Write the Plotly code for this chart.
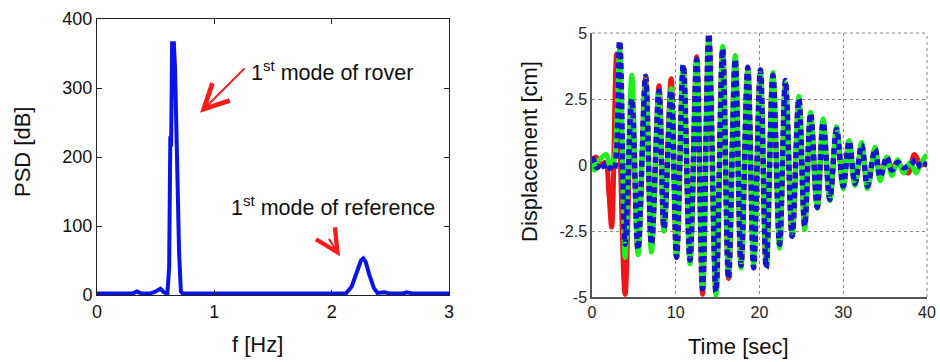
import plotly.graph_objects as go

# ---------------- data ----------------
# Left: PSD spectrum
freq_hz = [0.0, 0.30, 0.34, 0.38, 0.45, 0.50, 0.54, 0.57, 0.60, 0.615, 0.625, 0.632, 0.64,
           0.655, 0.665, 0.675, 0.69, 0.70, 0.715, 0.73, 1.0, 1.5, 2.0, 2.12, 2.17, 2.22,
           2.25, 2.27, 2.29, 2.32, 2.36, 2.39, 2.45, 2.50, 2.60, 2.64, 2.70, 3.0]
psd_db = [2, 2, 5, 2, 2, 5, 9, 4, 2, 40, 230, 215, 365, 365, 330, 250, 150, 60, 5, 2,
          2, 2, 2, 2, 12, 35, 50, 53, 48, 30, 10, 3, 4, 2, 2, 4, 2, 2]

# Right: displacement time histories (extrema)
t_bg = [0.0, 0.3, 0.6, 1.2, 1.7, 2.2, 2.6, 3.3, 3.95, 4.75, 5.5, 6.4, 7.1, 8.0, 8.6, 9.45,
        10.1, 10.9, 11.7, 12.5, 13.2, 13.95, 14.8, 15.6, 16.3, 17.1, 17.8, 18.6, 19.3,
        20.1, 20.8, 21.6, 22.4, 23.1, 23.9, 24.7, 25.4, 26.1, 26.9, 27.6, 28.4, 29.2,
        30.0, 30.7, 31.4, 32.2, 32.9, 33.8, 34.4, 35.2, 35.8, 36.5, 37.2, 38.0, 38.7,
        39.3, 40.0]
disp_blue = [0.3, 0.1, -0.1, 0.1, -0.2, -0.1, -0.2, 4.7, -3.0, 2.5, -3.2, 3.36, -3.0,
             2.8, -2.4, 2.8, -3.5, 3.8, -3.6, 4.0, -4.7, 4.97, -4.8, 4.4, -4.3, 4.0,
             -3.8, 3.7, -3.9, 3.6, -3.9, 3.4, -3.0, 3.2, -2.7, 2.5, -2.3, 1.95, -1.6,
             1.6, -1.3, 1.35, -0.8, 0.9, -0.7, 0.75, -0.8, 0.6, -0.45, 0.3, -0.2, 0.1,
             -0.1, 0.0, 0.2, -0.1, 0.1]
disp_green = [0.2, -0.2, 0.1, 0.3, 0.4, -0.1, 0.1, 4.4, -3.5, 3.4, -3.4, 3.2, -3.3,
              2.8, -2.5, 2.9, -3.4, 3.7, -3.75, 3.9, -4.6, 4.7, -4.95, 4.5, -4.2, 4.15,
              -3.9, 3.6, -3.8, 3.5, -3.8, 3.5, -3.15, 3.1, -2.6, 2.6, -2.45, 2.0, -1.65,
              1.75, -1.35, 1.45, -0.9, 0.93, -0.78, 0.85, -0.9, 0.68, -0.6, 0.3, -0.4,
              0.2, -0.3, 0.1, -0.3, 0.1, 0.4]
t_red = [0.0, 0.5, 1.0, 1.6, 2.0, 2.35, 2.95, 3.95, 4.75, 5.5, 6.4, 7.1, 8.0, 8.6, 9.45,
         10.1, 10.9, 11.7, 12.5, 13.2, 13.95, 14.8, 15.6, 16.3, 17.1, 17.8, 18.6, 19.3,
         20.1, 20.8, 21.6, 22.4, 23.1, 23.9, 24.7, 25.4, 26.1, 26.9, 27.6, 28.4, 29.2,
         30.0, 30.7, 31.4, 32.2, 32.9, 33.8, 34.4, 35.2, 35.8, 36.5, 37.2, 37.8, 38.5,
         39.3, 40.0]
disp_red = [0.2, 0.3, 0.0, 0.1, -1.0, -2.35, 4.2, -4.9, 2.5, -3.2, 3.3, -3.1, 3.0, -2.5,
            3.27, -3.5, 3.7, -3.6, 4.1, -4.9, 4.8, -4.8, 4.4, -4.3, 4.0, -3.8, 3.6, -3.5,
            3.5, -3.8, 3.4, -3.0, 3.1, -2.7, 2.5, -2.3, 1.9, -1.6, 1.6, -1.3, 1.3, -0.8,
            0.9, -0.7, 0.7, -0.8, 0.6, -0.45, 0.2, -0.1, 0.1, -0.2, -0.3, 0.4, 0.0, 0.1]

psd_ticks = [0, 100, 200, 300, 400]
f_ticks = [0, 1, 2, 3]
disp_ticks = [-5, -2.5, 0, 2.5, 5]
disp_ticktext = ["-5", "-2.5", "0", "2.5", "5"]
time_ticks = [0, 10, 20, 30, 40]

# ---------------- figure ----------------
W, H = 940, 362
titlefont = "Liberation Sans Narrow, Arial Narrow, Liberation Sans, Arial, sans-serif"
tickfont = "Liberation Sans, Arial, sans-serif"

def px_x(p):
    return p / W

def px_y(p):
    return 1 - p / H

fig = go.Figure()

fig.add_trace(go.Scatter(x=freq_hz, y=psd_db, mode="lines",
                         line=dict(color="#0a14e6", width=4),
                         xaxis="x", yaxis="y", showlegend=False))

fig.add_trace(go.Scatter(x=t_red, y=disp_red, mode="lines",
                         line=dict(color="#f01414", width=5, shape="spline", smoothing=1.0),
                         xaxis="x2", yaxis="y2", showlegend=False))
fig.add_trace(go.Scatter(x=t_bg, y=disp_green, mode="lines",
                         line=dict(color="#1ef01e", width=5, shape="spline", smoothing=1.0),
                         xaxis="x2", yaxis="y2", showlegend=False))
fig.add_trace(go.Scatter(x=t_bg, y=disp_blue, mode="lines",
                         line=dict(color="#1414d2", width=5.5, shape="spline", smoothing=1.0,
                                   dash="6px,4px"),
                         xaxis="x2", yaxis="y2", showlegend=False))

axis_common = dict(showgrid=False, zeroline=False, automargin=False)

fig.update_layout(
    width=W, height=H,
    margin=dict(l=0, r=0, t=0, b=0),
    paper_bgcolor="white", plot_bgcolor="white",
    xaxis=dict(domain=[px_x(97), px_x(449)], range=[0, 3], tickvals=f_ticks,
               ticks="inside", ticklen=5, tickcolor="#222", showline=True,
               linecolor="#222", linewidth=1, mirror="allticks",
               tickfont=dict(family=tickfont, size=18, color="#111"),
               anchor="y", **axis_common),
    yaxis=dict(domain=[px_y(295), px_y(19)], range=[0, 400], tickvals=psd_ticks,
               ticks="inside", ticklen=5, tickcolor="#222", showline=True,
               linecolor="#222", linewidth=1, mirror="allticks",
               tickfont=dict(family=tickfont, size=18, color="#111"),
               anchor="x", **axis_common),
    xaxis2=dict(domain=[px_x(592), px_x(927)], range=[0, 40], tickvals=time_ticks,
                showline=True, linecolor="#555", linewidth=1.5,
                showgrid=True, gridcolor="#8a8a8a", griddash="dot", gridwidth=1,
                zeroline=False, automargin=False, ticks="",
                tickfont=dict(family=tickfont, size=16, color="#222"), anchor="y2"),
    yaxis2=dict(domain=[px_y(297), px_y(33)], range=[-5, 5], tickvals=disp_ticks,
                ticktext=disp_ticktext,
                showline=True, linecolor="#555", linewidth=1.5,
                showgrid=True, gridcolor="#8a8a8a", griddash="dot", gridwidth=1,
                zeroline=False, automargin=False, ticks="",
                tickfont=dict(family=tickfont, size=16, color="#222"), anchor="x2"),
)

# dotted frame on top and right of the displacement plot (grid at range edges)
fig.add_shape(type="line", xref="x2 domain", yref="y2 domain", x0=0, x1=1, y0=1, y1=1,
              line=dict(color="#8a8a8a", width=1, dash="dot"), layer="below")
fig.add_shape(type="line", xref="x2 domain", yref="y2 domain", x0=1, x1=1, y0=0, y1=1,
              line=dict(color="#8a8a8a", width=1, dash="dot"), layer="below")

ann = []
# axis titles
ann.append(dict(text="PSD [dB]", x=px_x(22), y=px_y(152), xref="paper", yref="paper",
                textangle=-90, showarrow=False, xanchor="center", yanchor="middle",
                font=dict(family=titlefont, size=22, color="#111")))
ann.append(dict(text="f [Hz]", x=px_x(257), y=px_y(344), xref="paper", yref="paper",
                showarrow=False, xanchor="center", yanchor="middle",
                font=dict(family=titlefont, size=22, color="#111")))
ann.append(dict(text="Displacement [cm]", x=px_x(529), y=px_y(152), xref="paper", yref="paper",
                textangle=-90, showarrow=False, xanchor="center", yanchor="middle",
                font=dict(family=titlefont, size=22, color="#111")))
ann.append(dict(text="Time [sec]", x=px_x(738), y=px_y(346), xref="paper", yref="paper",
                showarrow=False, xanchor="center", yanchor="middle",
                font=dict(family=titlefont, size=22, color="#111")))
# in-plot labels
ann.append(dict(text="1<sup>st</sup> mode of rover", x=px_x(249), y=px_y(71),
                xref="paper", yref="paper", showarrow=False, xanchor="left", yanchor="middle",
                font=dict(family=titlefont, size=21.5, color="#111")))
ann.append(dict(text="1<sup>st</sup> mode of reference", x=px_x(229), y=px_y(206),
                xref="paper", yref="paper", showarrow=False, xanchor="left", yanchor="middle",
                font=dict(family=titlefont, size=21.5, color="#111")))
# red arrows
ann.append(dict(text="", x=0.878, y=264, xref="x", yref="y", ax=46, ay=-46,
                showarrow=True, arrowhead=5, arrowsize=2.4, arrowwidth=2, arrowcolor="#ff1a1a"))
ann.append(dict(text="", x=2.071, y=56, xref="x", yref="y", ax=-12, ay=-19,
                showarrow=True, arrowhead=5, arrowsize=2.2, arrowwidth=2, arrowcolor="#ff1a1a"))
fig.update_layout(annotations=ann)

fig.write_html("out.html")
